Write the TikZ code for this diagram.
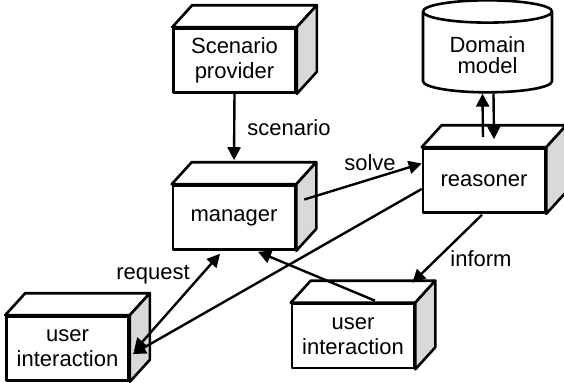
\documentclass[tikz,border=0pt]{standalone}
\usepackage{fontspec}
\setmainfont{Liberation Sans}
\usetikzlibrary{arrows.meta,shapes.geometric}

\begin{document}
\begin{tikzpicture}[x=0.5pt, y=-0.5pt, font=\fontsize{11}{12.5}\selectfont, line join=round, >={Triangle[length=6.5pt,width=6.5pt]},
    block/.style={draw, line width=1.3pt, fill=white, minimum width=61pt, minimum height=32pt, align=center, inner sep=0pt},
    link/.style={line width=1.2pt, ->}]
    \useasboundingbox (0,0) rectangle (564,382);
    % boxes
    \node[block] (prov) at (234.5,60.5) {Scenario\\provider};
    \node[block] (mgr) at (234,217.5) {manager};
    \node[block] (rsn) at (484,180.5) {reasoner};
    \node[block] (uiL) at (67.5,348.5) {user\\interaction};
    \node[block] (uiR) at (353,336) {user\\interaction};
    \node[draw, line width=1.3pt, cylinder, shape border rotate=90, aspect=0.25, minimum width=64.5pt, minimum height=46pt, align=center, font=\fontsize{11}{10.5}\selectfont] (dom) at (487.5,55) {Domain\\model};
    % top and side faces
    \foreach \n in {prov,mgr,rsn,uiL,uiR}{
        \filldraw[line width=1.3pt, fill=white] (\n.north west) -- ++(20,-22) -- ([shift={(20,-22)}]\n.north east) -- (\n.north east) -- cycle;
        \filldraw[line width=1.3pt, fill=gray!30] (\n.north east) -- ++(20,-22) -- ([shift={(20,-22)}]\n.south east) -- (\n.south east) -- cycle;
    }
    % labels
    \node (lscen) at (289,128) {scenario};
    \node (lsolve) at (370,163) {solve};
    \node (lreq) at (153,275) {request};
    \node (linf) at (481,259) {inform};
    % arrows
    \draw[link] (prov.south) -- ([yshift=12pt]mgr.north);
    \draw[link] ([shift={(8,-18)}]mgr.east) -- ([shift={(0,-17)}]rsn.west);
    \draw[link] ([shift={(-1,-10)}]rsn.north) -- ([shift={(-5,0)}]dom.south);
    \draw[link] ([shift={(6,0)}]dom.south) -- ([shift={(10,-8)}]rsn.north);
    \draw[link] ([shift={(0,8.5)}]rsn.west) -- ([shift={(3,5.5)}]uiL.east);
    \draw[link, <->] ([shift={(-14,3)}]mgr.south) -- ([shift={(4,3)}]uiL.east);
    \draw[link] ([shift={(22,-2)}]uiR.north) -- ([shift={(24,1)}]mgr.south);
    \draw[link] ([shift={(-2,1)}]rsn.south) -- ([shift={(-3,-20)}]uiR.north east);
\end{tikzpicture}
\end{document}
